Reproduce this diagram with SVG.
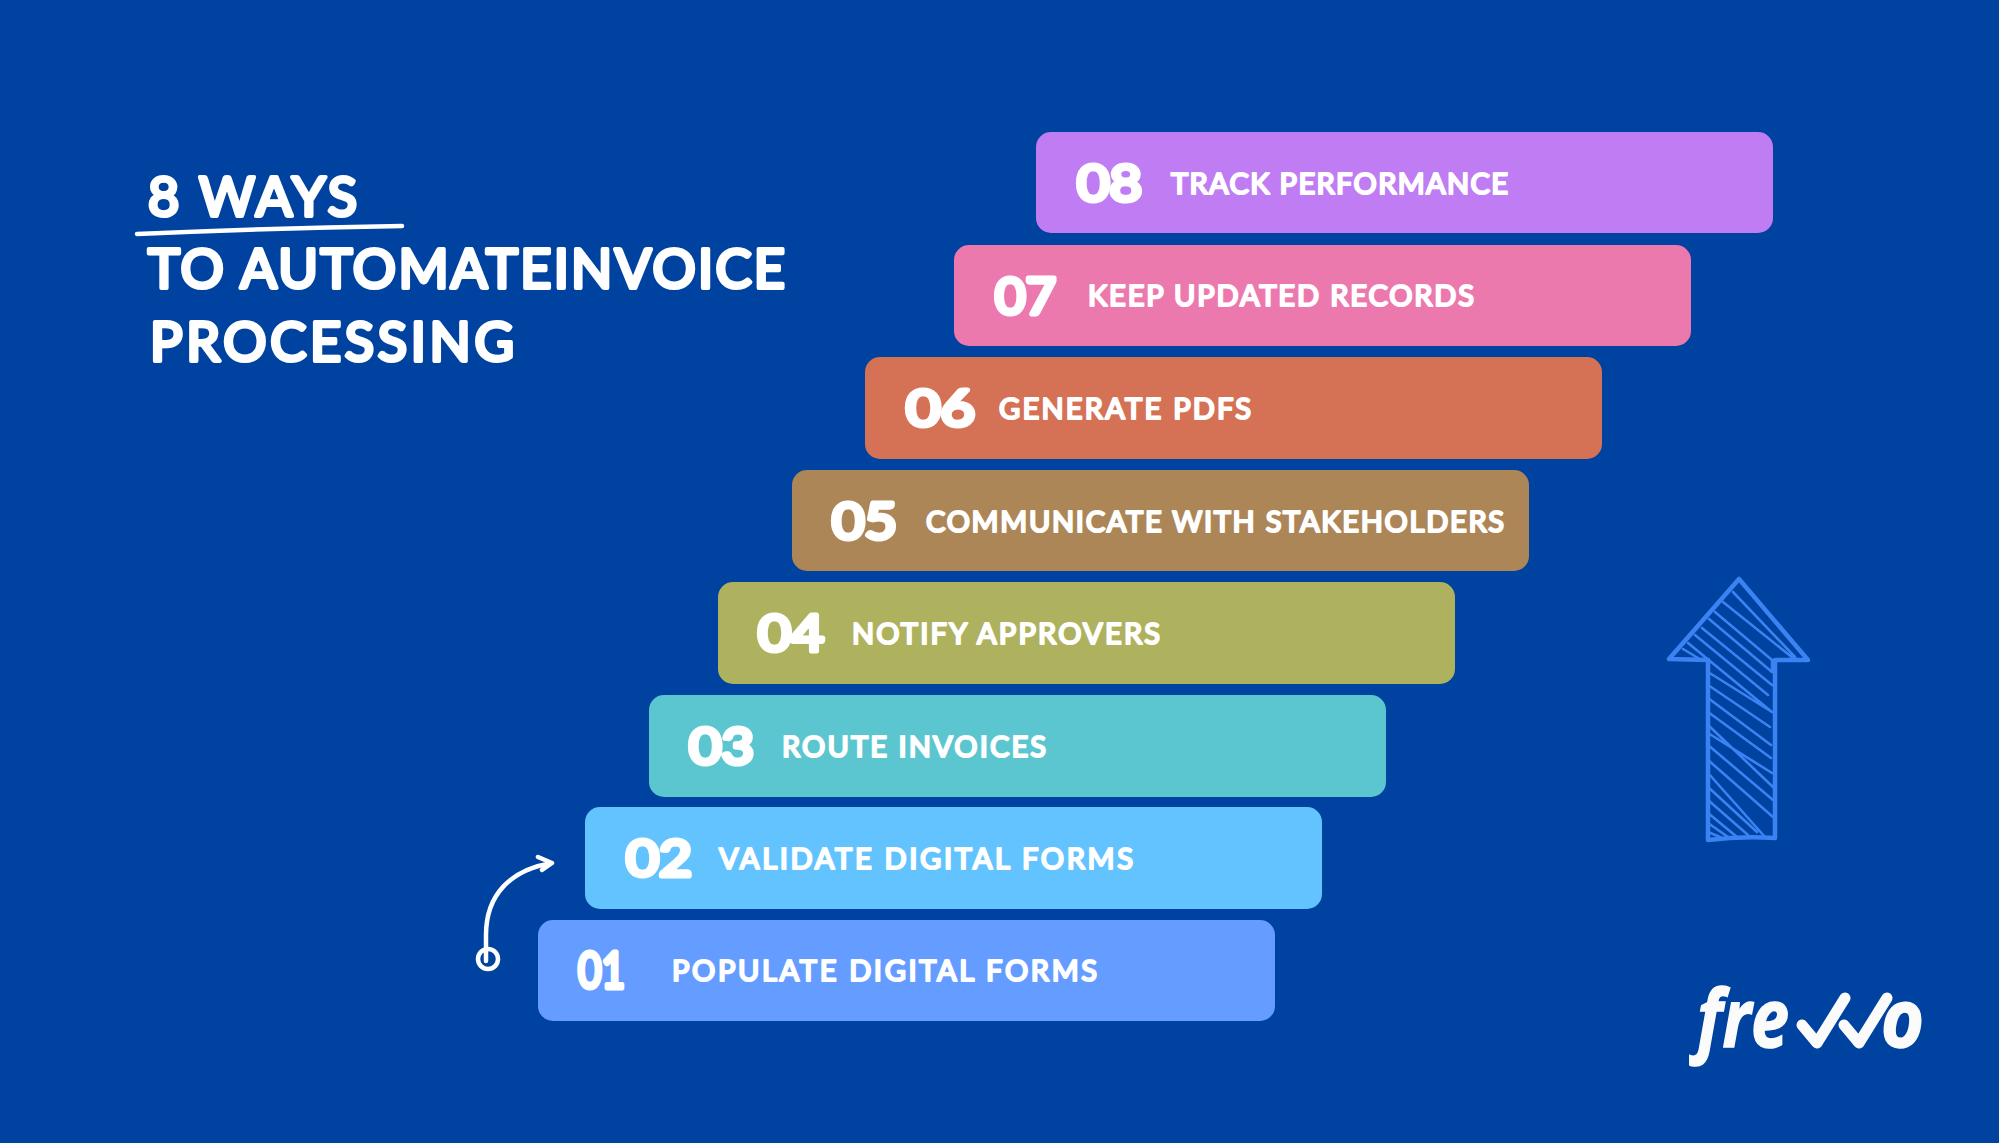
<svg xmlns="http://www.w3.org/2000/svg" width="1999" height="1143" viewBox="0 0 1999 1143">
<style>
.t{font-family:"Lato","Noto Sans",sans-serif;font-weight:400;fill:#fff;stroke:#fff;stroke-linejoin:round;stroke-linecap:round}
.h{font-size:54px;stroke-width:4px}
.n{font-size:50px;stroke-width:5px}
.l{font-size:29px;stroke-width:2.2px}
.b{stroke:none}
.a{fill:none;stroke:#3b82f3;stroke-linecap:round;stroke-linejoin:round}
.w{fill:none;stroke:#fff;stroke-linecap:round;stroke-linejoin:round}
.logo{font-family:"Open Sans","Noto Sans",sans-serif;font-weight:700;font-style:italic;font-size:80px;fill:#fbfbfb;stroke:#fbfbfb;stroke-width:1.5px}
</style>
<rect width="1999" height="1143" fill="#00429f"/>
<g id="title">
<text class="t h" x="148" y="216" textLength="209">8 WAYS</text>
<path class="w" d="M137 234Q270 228 402 226" stroke-width="4.5"/>
<text class="t h" x="148" y="288" textLength="637">TO AUTOMATEINVOICE</text>
<text class="t h" x="150" y="361" textLength="364">PROCESSING</text>
</g>
<g id="step-08"><rect class="b" x="1036" y="132" width="737" height="101" rx="15" fill="#c07cf2"/>
<text class="t n" x="1077" y="201" textLength="65" lengthAdjust="spacingAndGlyphs">08</text>
<text class="t l" x="1171" y="194" textLength="337">TRACK PERFORMANCE</text></g>
<g id="step-07"><rect class="b" x="954" y="245" width="737" height="101" rx="15" fill="#ec79ae"/>
<text class="t n" x="995" y="314" textLength="61" lengthAdjust="spacingAndGlyphs">07</text>
<text class="t l" x="1088" y="306" textLength="386">KEEP UPDATED RECORDS</text></g>
<g id="step-06"><rect class="b" x="865" y="357" width="737" height="102" rx="15" fill="#d57155"/>
<text class="t n" x="906" y="426" textLength="69" lengthAdjust="spacingAndGlyphs">06</text>
<text class="t l" x="999" y="419" textLength="252">GENERATE PDFS</text></g>
<g id="step-05"><rect class="b" x="792" y="470" width="737" height="101" rx="15" fill="#ad8658"/>
<text class="t n" x="832" y="539" textLength="65" lengthAdjust="spacingAndGlyphs">05</text>
<text class="t l" x="926" y="532" textLength="578">COMMUNICATE WITH STAKEHOLDERS</text></g>
<g id="step-04"><rect class="b" x="718" y="582" width="737" height="102" rx="15" fill="#aeb15d"/>
<text class="t n" x="758" y="651" textLength="66" lengthAdjust="spacingAndGlyphs">04</text>
<text class="t l" x="852" y="644" textLength="308">NOTIFY APPROVERS</text></g>
<g id="step-03"><rect class="b" x="649" y="695" width="737" height="102" rx="15" fill="#5bc6d0"/>
<text class="t n" x="689" y="764" textLength="65" lengthAdjust="spacingAndGlyphs">03</text>
<text class="t l" x="782" y="757" textLength="264">ROUTE INVOICES</text></g>
<g id="step-02"><rect class="b" x="585" y="807" width="737" height="102" rx="15" fill="#62c3ff"/>
<text class="t n" x="626" y="876" textLength="66" lengthAdjust="spacingAndGlyphs">02</text>
<text class="t l" x="719" y="869" textLength="414">VALIDATE DIGITAL FORMS</text></g>
<g id="step-01"><rect class="b" x="538" y="920" width="737" height="101" rx="15" fill="#659cff"/>
<text class="t n" x="578" y="988" textLength="47" lengthAdjust="spacingAndGlyphs">01</text>
<text class="t l" x="672" y="981" textLength="425">POPULATE DIGITAL FORMS</text></g>
<g id="connectors">
<circle class="w" cx="488" cy="959" r="10" stroke-width="4.5"/>
<path class="w" d="M486 961V935C486 895 510 870 552 863M538 857L552 863L542 870" stroke-width="4.5"/>
</g>
<g id="up-arrow">
<path class="a" stroke-width="4.5" d="M1739 579L1669 659L1708 660L1708 840Q1740 836 1775 838L1775 660L1808 660Z"/>
<path class="a" stroke-width="2.6" d="M1733 592L1795 657M1723 602L1793 658M1715 612L1772 660L1772 672M1709 619L1772 672M1702 628L1772 685M1695 635L1768 695M1688 643L1772 712M1683 649L1698 658M1708 672L1772 712M1708 685L1770 727M1708 698L1771 745M1708 712L1771 758M1708 725L1773 787M1708 733L1772 773M1708 745L1773 800M1708 760L1773 817M1708 773L1765 837M1708 787L1757 832M1708 800L1748 835M1708 813L1737 837M1708 823L1728 837M1708 832L1720 837"/>
</g>
<g id="logo">
<text class="logo" x="1697" y="1047" textLength="92" lengthAdjust="spacingAndGlyphs">fre</text>
<path class="w" style="stroke:#fbfbfb" stroke-width="11" d="M1802 1025L1817 1043L1845 998M1844 1025L1859 1043L1887 998"/>
<text class="logo" x="1881" y="1047" textLength="43" lengthAdjust="spacingAndGlyphs">o</text>
</g>
</svg>
